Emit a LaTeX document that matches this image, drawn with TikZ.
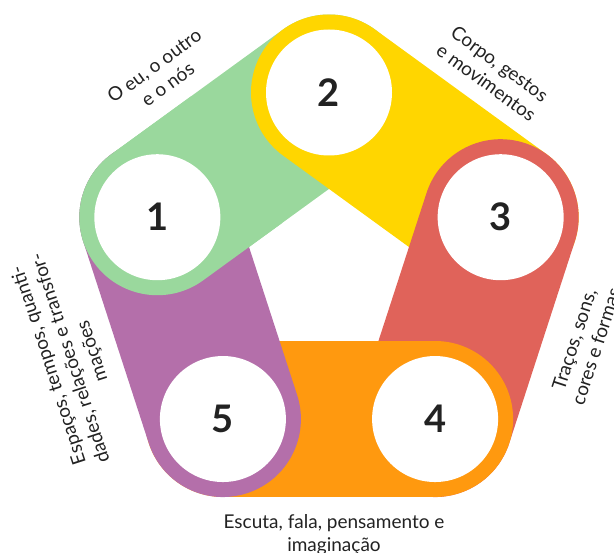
\documentclass[tikz,border=0pt]{standalone}
\usepackage{fontspec}
\setmainfont{Lato}
\definecolor{cgreen}{HTML}{9AD89D}
\definecolor{cyellow}{HTML}{FFD600}
\definecolor{cred}{HTML}{E0635A}
\definecolor{corange}{HTML}{FF990F}
\definecolor{cpurple}{HTML}{B46FAA}
\definecolor{txt}{HTML}{222222}
\begin{document}
\begin{tikzpicture}[x=1pt,y=-1pt,
  capsule/.style={line width=156pt, line cap=round},
  hole/.style={fill=white},
  num/.style={font=\fontsize{38}{40}\selectfont\bfseries, text=txt},
  lab/.style={font=\fontsize{19}{23}\selectfont, text=txt, align=center, inner sep=0pt}]
\useasboundingbox (0,0) rectangle (614,553);
\begin{scope}[shift={(329,273)}]
  \coordinate (c1) at (198:180.5);
  \coordinate (c2) at (270:180.5);
  \coordinate (c3) at (342:180.5);
  \coordinate (c4) at (54:180.5);
  \coordinate (c5) at (126:180.5);
\end{scope}
% capsules
\draw[capsule, cgreen] (c1) -- (c2);
\draw[capsule, cyellow] (c2) -- (c3);
\draw[capsule, cred] (c3) -- (c4);
\draw[capsule, corange] (c4) -- (c5);
\draw[capsule, cpurple] (c5) -- (c1);
\begin{scope}
  \clip (c1) circle (125pt);
  \draw[capsule, cgreen] (c1) -- (c2);
\end{scope}
% white discs and numbers
\foreach \i in {1,...,5}{
  \fill[hole] (c\i) circle (63pt);
  \node[num] (n\i) at (c\i) {\i};
}
% labels
\node[lab, rotate=36] (l1) at (161,75) {O eu, o outro\\e o nós};
\node[lab, rotate=-36] (l2) at (493,73) {Corpo, gestos\\e movimentos};
\node[lab, rotate=72] (l3) at (585,343) {Traços, sons,\\cores e formas};
\node[lab] (l4) at (334,535) {Escuta, fala, pensamento e\\imaginação};
\node[lab, rotate=108] (l5) at (71,358) {Espaços, tempos, quanti-\\dades, relações e transfor-\\mações};
\end{tikzpicture}
\end{document}
